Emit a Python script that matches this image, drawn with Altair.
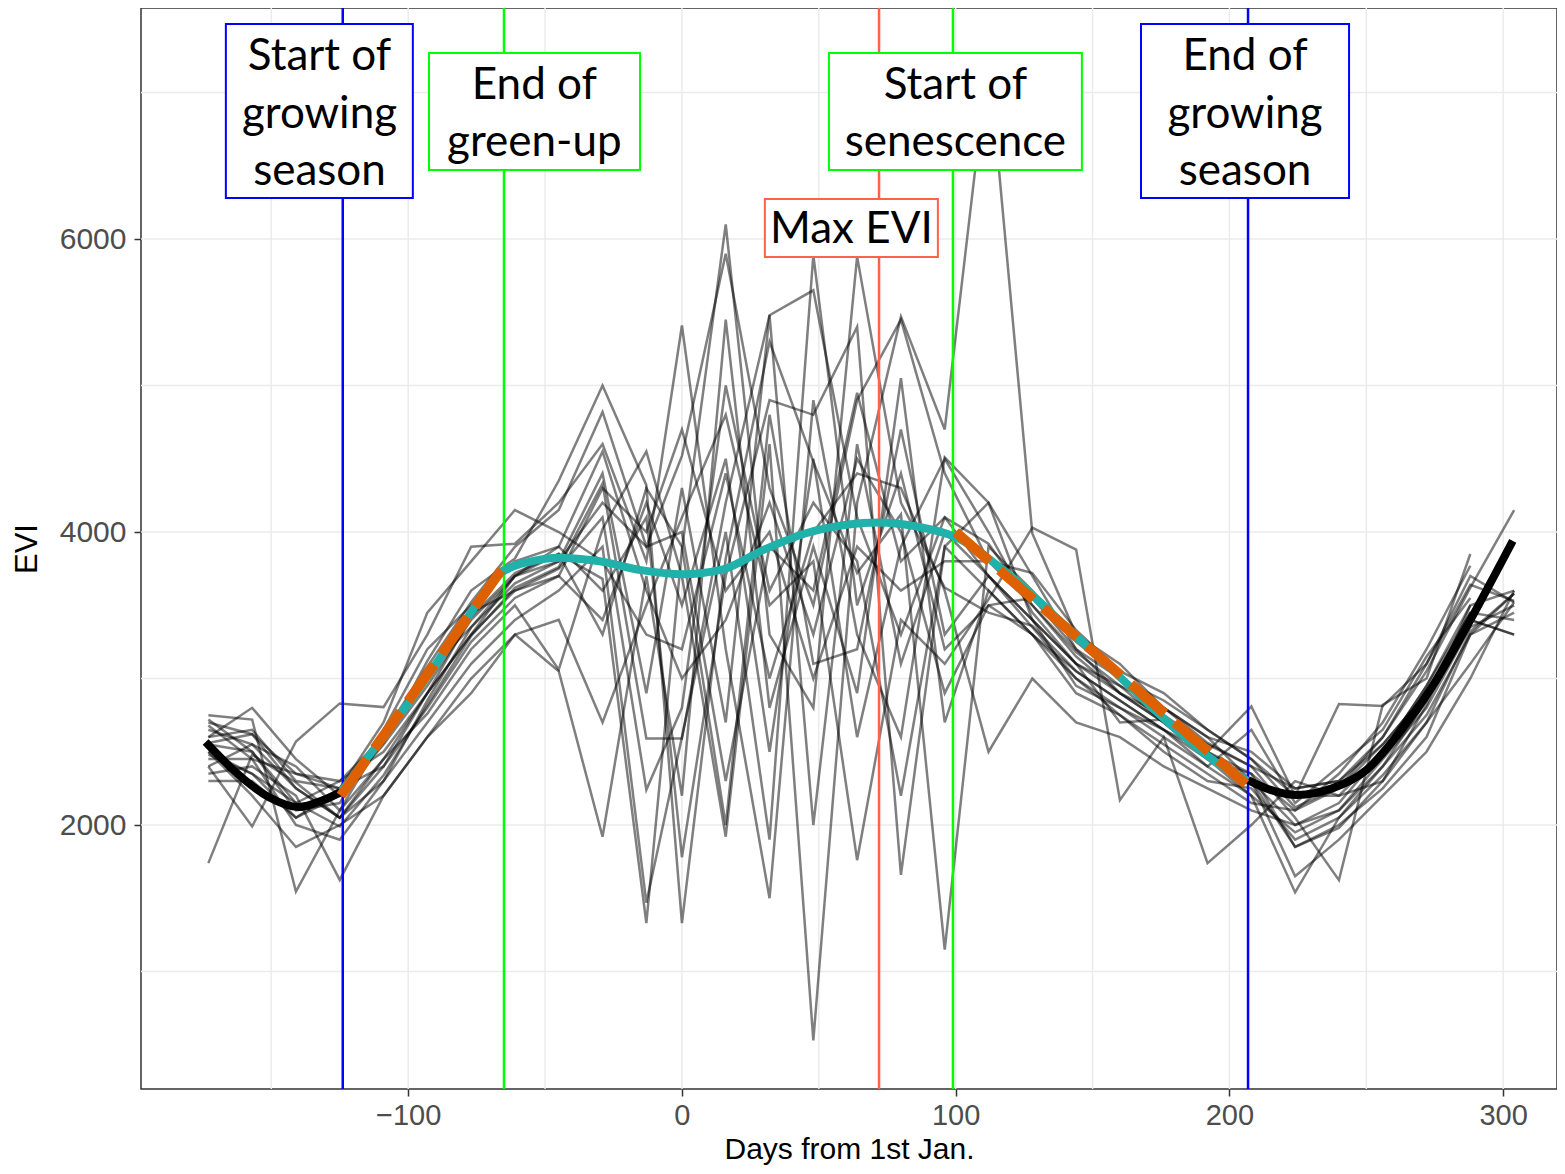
import altair as alt
import pandas as pd
import numpy as np

# ---------------- data ----------------
days = [-173, -157, -141, -125, -109, -93, -77, -61, -45, -29, -13, 0, 16, 32, 48, 64,
        80, 96, 112, 128, 144, 160, 176, 192, 208, 224, 240, 256, 272, 288, 304]
N = None
evi_series = {
    "s01": [2700, 2620, 2350, 2250, 2620, 3080, 3520, 3900, 4150, 4820, 3900, 4520, 5900, 4300, 3500, 4900, 5450, 4400, 3800, 3720, 3330, 3050, 2900, 2650, 2450, 2120, 2260, 2600, 3050, 3620, 4150],
    "s02": [2500, 2350, 2150, 1990, 2340, 2820, 3290, 3620, 3760, 4330, 2590, 2590, 4200, 5480, 5650, 4100, 3300, 4100, 3920, 3500, 3180, 2950, 2700, 2450, 2300, 1850, 1980, 2300, 2820, 3500, N],
    "s03": [1740, 2480, 2290, 2050, 2400, 2900, 3420, 3720, 3850, 3680, 1330, 3880, 6100, 3300, 2800, 5880, 4200, 3620, 3450, 3360, 3050, 2850, 2650, 2400, 2200, 1540, 2050, 2340, 2700, 3320, 3580],
    "s04": [2600, 2800, 2450, 2200, 2560, 3120, 3600, 3820, 4350, 5000, 4320, 1330, 3820, 5300, 4480, 3720, 4120, 1150, 3900, 3600, 3250, 3010, 2800, 2560, 2400, 2050, 1624, 2820, 3000, 3850, N],
    "s05": [2400, 1990, 2570, 2830, 2805, 3300, 3900, 3920, 4200, 4600, 3800, 5410, 3200, 1500, 4900, 3300, 2600, 4510, 4200, 3400, 3100, 2700, 2720, 2500, 2810, 2200, 2826, 2812, 3100, 3640, 3530],
    "s06": [2750, 2720, 1545, 2100, 2450, 2760, 3200, 3500, 3060, 4020, 4550, 3700, 1920, 4600, 530, 4200, 5470, 4700, 7250, 3990, 3300, 3100, 2800, 2600, 2300, 2000, 2100, 2400, 2850, 3400, 3300],
    "s07": [2350, 2400, 2200, 1625, 2200, 2600, 3000, 3300, 3400, 2700, 3500, 4100, 4800, 3500, 3800, 1760, 3400, 3100, 3540, 4030, 3880, 2170, 2600, 1740, 2000, 2300, 2200, 2300, 2700, 3100, 3520],
    "s08": [2550, 2500, 2100, 2150, 2650, 3200, 3500, 3800, 3900, 3600, 4100, 1780, 3700, 4900, 4800, 5400, 1660, 3900, 4200, 3700, 3200, 2900, 2700, 2500, 2300, 1650, 1900, 2200, 2500, 3000, 3600],
    "s09": [2650, 2550, 2250, 2050, 2300, 2700, 3100, 3400, 3600, 3900, 1470, 2600, 4000, 1900, 5890, 3500, 4400, 3200, 3500, 3300, 2900, 2750, 2550, 2350, 2150, 2100, 2350, 2700, 3200, 3770, N],
    "s10": [2450, 2450, 2350, 2300, 2500, 2900, 3300, 3700, 3800, 4200, 3900, 4000, 2300, 3900, 3600, 4950, 3800, 4100, 3700, 3350, 3000, 2800, 2650, 2500, 2350, 1850, 2000, 2250, 2600, 3300, 3580],
    "s11": [2300, 2300, 2050, 2250, 2700, 3450, 3800, 4150, 4000, 3800, 3300, 3200, 4400, 3000, 4000, 4400, 4300, 3600, 2500, 3000, 2700, 2600, 2400, 2250, 2100, 2000, 2150, 2500, 2950, 3450, N],
    "s12": [2600, 2650, 2300, 2250, 2400, 2800, 3250, 3550, 3700, 4300, 4000, 4700, 3600, 4000, 3000, 3900, 3600, 3800, 3800, 3500, 3150, 2900, 2750, 2550, 2400, 2250, 2300, 2550, 2900, 3400, 3300],
    "s13": [2500, 2200, 1850, 2000, 2200, 2600, 2900, 3300, 3050, 1920, 3700, 2200, 5450, 2800, 3900, 2900, 5050, 2700, 3600, 3300, 3000, 2750, 2500, 2300, 2250, 1900, 2050, 2400, 2750, 3300, 3450],
    "s14": [2680, 2450, 2000, 1900, 2300, 2850, 3350, 3650, 3800, 4400, 2900, 4300, 2700, 5480, 2000, 4600, 3100, 4000, 3700, 3400, 2950, 2800, 2600, 2400, 2650, 2150, 2400, 2650, 3150, 3550, N],
    "s15": [2400, 2550, 2400, 2100, 2600, 3000, 3450, 3600, 3700, 3400, 4200, 3500, 4500, 2500, 4500, 2600, 3900, 4500, 4000, 3450, 3100, 2950, 2800, 2600, 2500, 2250, 2300, 2600, 3100, 3700, 3520],
    "s16": [2560, 2620, 2250, 2050, 2450, 2900, 3300, 3600, 3750, 4100, 2240, 2800, 5000, 3600, 4200, 3800, 2200, 3900, 3600, 3300, 3050, 2850, 2650, 2450, 2200, 1950, 2100, 2450, 2800, 3350, 3500],
    "s17": [2720, 2500, 2150, 2300, 2600, 3050, 3350, 3700, 3900, 4550, 3600, 3000, 3400, 4200, 3300, 4500, 4000, 2900, 3500, 3550, 3200, 3000, 2850, 2650, 2450, 2200, 2200, 2500, 2950, 3500, 3600],
    "s18": [2480, 2350, 2050, 2200, 2550, 2950, 3400, 3700, 3850, 3300, 4300, 3900, 2000, 4800, 3100, 3200, 4700, 3300, 3700, 3400, 3100, 2900, 2700, 2450, 2350, 2100, 2250, 2550, 2900, 3450, 3400],
}

# fitted curves
fit_left_x = [-174, -161, -151, -140, -131, -124.6]
fit_left_y = [2567, 2328, 2191, 2123, 2171, 2225]
fit_right_x = [206.8, 215, 224.6, 237.8, 250, 262, 274, 286.6, 303.5]
fit_right_y = [2307, 2240, 2205, 2252, 2375, 2628, 2942, 3352, 3940]
teal_x = [-124.6, -110, -95, -80, -66, -55, -45, -30, -15, 0, 15, 30, 45, 60, 72, 85, 100,
          120, 140, 160, 180, 195, 206.8]
teal_y = [2225, 2580, 2960, 3370, 3720, 3800, 3825, 3800, 3740, 3712, 3745, 3880, 3990, 4050,
          4065, 4040, 3965, 3700, 3360, 3010, 2660, 2430, 2300]
greenup_x = [-124.6, -66]
greenup_y = [2200, 3740]
senesc_x = [100, 206]
senesc_y = [4000, 2280]

# phenology dates
pheno_x = [-123.9, -65, 72, 99, 206.8]
pheno_col = ["#0000FF", "#00FF00", "#FF6347", "#00FF00", "#0000FF"]

# labels (y = position of the first text line)
label_text = ["Start of\ngrowing\nseason", "End of\ngreen-up", "Max EVI",
              "Start of\nsenescence", "End of\ngrowing\nseason"]
label_x = [-132.4, -53.9, 61.9, 99.9, 205.7]
label_y = [7240, 7045, 6065, 7045, 7240]
box_x1 = [-166.6, -92.4, 30.3, 53.7, 167.7]
box_x2 = [-98.3, -15.3, 93.5, 146.1, 243.7]
box_y1 = [6280, 6471, 5877, 6471, 6280]
box_y2 = [7468, 7270, 6273, 7270, 7468]
label_col = ["#0000FF", "#00FF00", "#FF6347", "#00FF00", "#0000FF"]

x_grid = [-150, -100, -50, 0, 50, 100, 150, 200, 250, 300]
y_grid = [1000, 2000, 3000, 4000, 5000, 6000, 7000]
x_ticks = [-100, 0, 100, 200, 300]
y_ticks = [2000, 4000, 6000]

# ---------------- frames ----------------
rows = []
for k, vals in evi_series.items():
    for d, v in zip(days, vals):
        if v is not None:
            rows.append({"x": d, "y": v, "series": k})
df_lines = pd.DataFrame(rows)

def curve(xs, ys, name):
    return pd.DataFrame({"x": xs, "y": ys, "grp": name})

df_black = pd.concat([curve(fit_left_x, fit_left_y, "L"), curve(fit_right_x, fit_right_y, "R")])
df_teal = curve(teal_x, teal_y, "T")
df_orange = pd.concat([curve(greenup_x, greenup_y, "G"), curve(senesc_x, senesc_y, "S")])
df_pheno = pd.DataFrame({"x": pheno_x, "col": pheno_col})
df_lab = pd.DataFrame({"x": label_x, "y": label_y, "text": label_text,
                       "bx1": box_x1, "bx2": box_x2, "by1": box_y1, "by2": box_y2,
                       "col": label_col})
df_xg = pd.DataFrame({"x": x_grid})
df_yg = pd.DataFrame({"y": y_grid})

# ---------------- scales / axes ----------------
xscale = alt.Scale(domain=[-197.6, 319.66], nice=False, zero=False)
yscale = alt.Scale(domain=[198, 7577], nice=False, zero=False)
xaxis = alt.Axis(values=x_ticks, title="Days from 1st Jan.", grid=False, domain=False,
                 tickColor="#333333", tickSize=7, tickWidth=1.5, format="d",
                 labelFont="Liberation Sans", labelFontSize=29, labelColor="#4D4D4D",
                 labelPadding=5, titleFont="Liberation Sans", titleFontSize=30,
                 titleColor="black", titleFontWeight="normal",
                 titleBaseline="alphabetic", titleY=69)
yaxis = alt.Axis(values=y_ticks, title="EVI", grid=False, domain=False,
                 tickColor="#333333", tickSize=7, tickWidth=1.5, format="d",
                 labelFont="Liberation Sans", labelFontSize=30, labelColor="#4D4D4D",
                 labelPadding=8, titleFont="Liberation Sans", titleFontSize=31,
                 titleColor="black", titleFontWeight="normal", titlePadding=16)

X = lambda f="x": alt.X(f"{f}:Q", scale=xscale, axis=xaxis)
Y = lambda f="y": alt.Y(f"{f}:Q", scale=yscale, axis=yaxis)

minor_x = alt.Chart(df_xg).mark_rule(color="#EBEBEB", strokeWidth=1.5).encode(x=X())
minor_y = alt.Chart(df_yg).mark_rule(color="#EBEBEB", strokeWidth=1.5).encode(y=Y())

gray = alt.Chart(df_lines).mark_line(color="black", opacity=0.5, strokeWidth=2.5).encode(
    x=X(), y=Y(), detail="series:N")

pheno = alt.Chart(df_pheno).mark_rule(strokeWidth=2.5).encode(
    x=X(), color=alt.Color("col:N", scale=None))

teal = alt.Chart(df_teal).mark_line(color="#20B2AA", strokeWidth=8, interpolate="monotone",
                                    strokeCap="butt").encode(x=X(), y=Y(), detail="grp:N")
black = alt.Chart(df_black).mark_line(color="black", strokeWidth=8, interpolate="monotone",
                                      strokeCap="butt").encode(x=X(), y=Y(), detail="grp:N")
orange = alt.Chart(df_orange).mark_line(color="#DD6100", strokeWidth=10, strokeDash=[45, 13],
                                        strokeCap="butt").encode(x=X(), y=Y(), detail="grp:N")

boxes = alt.Chart(df_lab).mark_rect(fill="white", strokeWidth=2).encode(
    x=X("bx1"), x2="bx2", y=Y("by1"), y2="by2", stroke=alt.Color("col:N", scale=None))
texts = alt.Chart(df_lab).mark_text(font="Lato", fontSize=44, lineBreak="\n", lineHeight=57.5,
                                    align="center", baseline="middle", color="black").encode(
    x=X(), y=Y(), text="text:N")

chart = alt.layer(minor_x, minor_y, gray, pheno, teal, black, orange, boxes, texts).properties(
    width=1416, height=1081,
    autosize=alt.AutoSizeParams(type="none"),
    padding={"left": 133, "top": 0, "right": 0, "bottom": 76},
    background="white",
).configure_view(stroke="#333333", strokeWidth=1.5)

chart.save("out.html", embed_options={"renderer": "svg", "actions": False})
